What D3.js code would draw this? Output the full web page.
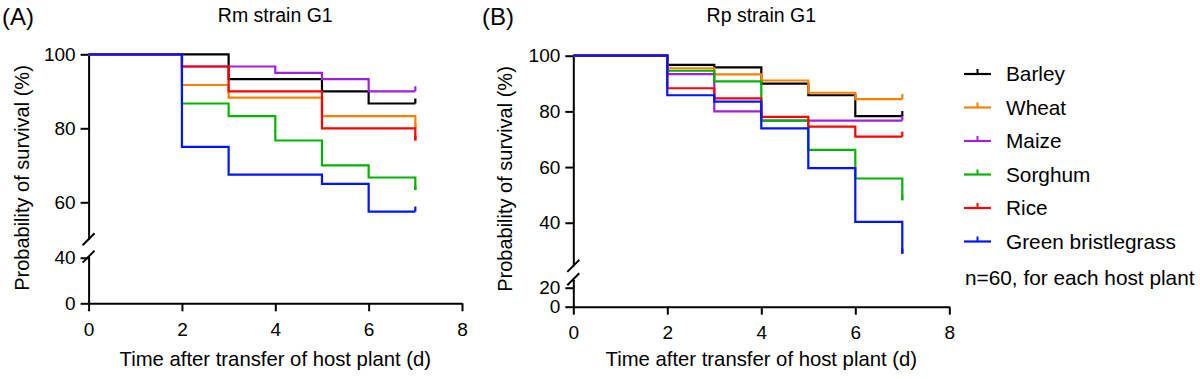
<!DOCTYPE html>
<html>
<head>
<meta charset="utf-8">
<script src="https://cdn.jsdelivr.net/npm/d3@7"></script>
<style>
  body { margin: 0; background: #fff; }
  svg { display: block; font-family: Arial, "Liberation Sans", sans-serif; }
  .axis path, .axis line { stroke: #000; stroke-width: 2px; }
  .axis text { font-size: 19px; fill: #000; }
</style>
</head>
<body>
<script>
// survival (%), value after the step at each day
const days = [0, 2, 3, 4, 5, 6, 7];
const hosts = ['Barley', 'Wheat', 'Maize', 'Sorghum', 'Rice', 'Green bristlegrass'];
const hostColors = ['#000000', '#ff8000', '#a21fe0', '#00b400', '#ff0000', '#0015ff'];

const rmSurvival = [
  [100, 100, 93.3, 93.3, 90, 86.7, 86.7],
  [100, 91.7, 88.3, 88.3, 83.3, 83.3, 80],
  [100, 96.7, 96.7, 95, 93.3, 90, 90],
  [100, 86.7, 83.3, 76.7, 70, 66.7, 63.3],
  [100, 96.7, 90, 90, 80, 80, 76.7],
  [100, 75, 67.5, 67.5, 65, 57.5, 57.5]
];
const rpSurvival = [
  [100, 96.7, 95.8, 90, 85.8, 78.3, 78.3],
  [100, 95.5, 93.3, 91.1, 86.7, 84.4, 84.4],
  [100, 93.4, 80, 76.7, 76.7, 76.7, 76.7],
  [100, 94.6, 90.8, 76.7, 66.2, 55.9, 48.1],
  [100, 88.3, 84.7, 78, 74.5, 70.9, 70.9],
  [100, 85.8, 83.5, 73.9, 59.6, 40.3, 28.9]
];

const xTicks = [0, 2, 4, 6, 8];
const rmUpperTicks = [60, 80, 100];
const rmLowerTicks = [0, 40];
const rpUpperTicks = [40, 60, 80, 100];
const rpLowerTicks = [0, 20];

const svg = d3.select('body').append('svg')
  .attr('width', 1200)
  .attr('height', 379);

function drawPanel(p) {
  const g = svg.append('g');

  const x = d3.scaleLinear().domain([0, 8]).range([p.x0, p.x1]);
  const yUp = d3.scaleLinear().domain([p.upMin, 100]).range([p.upBottom, p.yTop]);
  const yLo = d3.scaleLinear().domain([0, p.loMax]).range([p.yZero, p.loTop]);

  // y axis, two segments with a break
  g.append('g').attr('class', 'axis')
    .attr('transform', `translate(${p.x0},0)`)
    .call(d3.axisLeft(yUp).tickValues(p.upTicks).tickSize(8).tickSizeOuter(0).tickPadding(5));
  g.append('g').attr('class', 'axis')
    .attr('transform', `translate(${p.x0},0)`)
    .call(d3.axisLeft(yLo).tickValues(p.loTicks).tickSize(8).tickSizeOuter(0).tickPadding(5));

  // x axis
  g.append('g').attr('class', 'axis')
    .attr('transform', `translate(0,${p.yZero})`)
    .call(d3.axisBottom(x).tickValues(xTicks).tickSize(8).tickSizeOuter(0).tickPadding(11));

  svg.selectAll('.axis .domain').attr('fill', 'none');

  // break marks
  [p.upBottom, p.loTop].forEach(yb => {
    g.append('line')
      .attr('x1', p.x0 - 6).attr('y1', yb + 6)
      .attr('x2', p.x0 + 6).attr('y2', yb - 6)
      .attr('stroke', '#000').attr('stroke-width', 2);
  });

  // survival curves
  const line = d3.line()
    .x((d, i) => x(days[i]))
    .y(d => yUp(d))
    .curve(d3.curveStepAfter);

  p.data.forEach((vals, k) => {
    g.append('path')
      .datum(vals)
      .attr('d', line)
      .attr('fill', 'none')
      .attr('stroke', hostColors[k])
      .attr('stroke-width', 2.2);
    // censor tick at the last day
    const last = vals[vals.length - 1];
    g.append('line')
      .attr('x1', x(days[days.length - 1])).attr('x2', x(days[days.length - 1]))
      .attr('y1', yUp(last)).attr('y2', yUp(last) - 5)
      .attr('stroke', hostColors[k]).attr('stroke-width', 2.2);
  });

  // texts
  g.append('text')
    .attr('x', p.labelX).attr('y', 25)
    .attr('font-size', 24)
    .text(p.label);
  g.append('text')
    .attr('x', (p.x0 + p.x1) / 2).attr('y', 22)
    .attr('text-anchor', 'middle')
    .attr('font-size', 19.5)
    .text(p.title);
  g.append('text')
    .attr('x', (p.x0 + p.x1) / 2).attr('y', 366)
    .attr('text-anchor', 'middle')
    .attr('font-size', 20.3)
    .text('Time after transfer of host plant (d)');
  g.append('text')
    .attr('transform', `translate(${p.yTitleX},${p.yTitleY}) rotate(-90)`)
    .attr('text-anchor', 'middle')
    .attr('font-size', 20)
    .text('Probability of survival (%)');
}

drawPanel({
  label: '(A)', labelX: 2, title: 'Rm strain G1', data: rmSurvival,
  x0: 88.6, x1: 462, yTop: 54.3, upMin: 50, upBottom: 239.3,
  yZero: 303.3, loMax: 41, loTop: 256.6,
  upTicks: rmUpperTicks, loTicks: rmLowerTicks,
  yTitleX: 29, yTitleY: 178
});

drawPanel({
  label: '(B)', labelX: 482, title: 'Rp strain G1', data: rpSurvival,
  x0: 573.3, x1: 949.3, yTop: 55.7, upMin: 24.5, upBottom: 265.9,
  yZero: 306.7, loMax: 29, loTop: 279.2,
  upTicks: rpUpperTicks, loTicks: rpLowerTicks,
  yTitleX: 512, yTitleY: 179
});

// legend
const legend = svg.append('g').attr('transform', 'translate(964,74)');
hosts.forEach((h, i) => {
  const row = legend.append('g').attr('transform', `translate(0,${i * 33.5})`);
  row.append('line')
    .attr('x1', 0).attr('x2', 27).attr('y1', 0).attr('y2', 0)
    .attr('stroke', hostColors[i]).attr('stroke-width', 2.2);
  row.append('line')
    .attr('x1', 13.5).attr('x2', 13.5).attr('y1', 0).attr('y2', -5)
    .attr('stroke', hostColors[i]).attr('stroke-width', 2);
  row.append('text')
    .attr('x', 42).attr('y', 7)
    .attr('font-size', 20.8)
    .text(h);
});
legend.append('text')
  .attr('x', 1).attr('y', 6 * 33.5 + 10)
  .attr('font-size', 20.8)
  .text('n=60, for each host plant');
</script>
</body>
</html>
